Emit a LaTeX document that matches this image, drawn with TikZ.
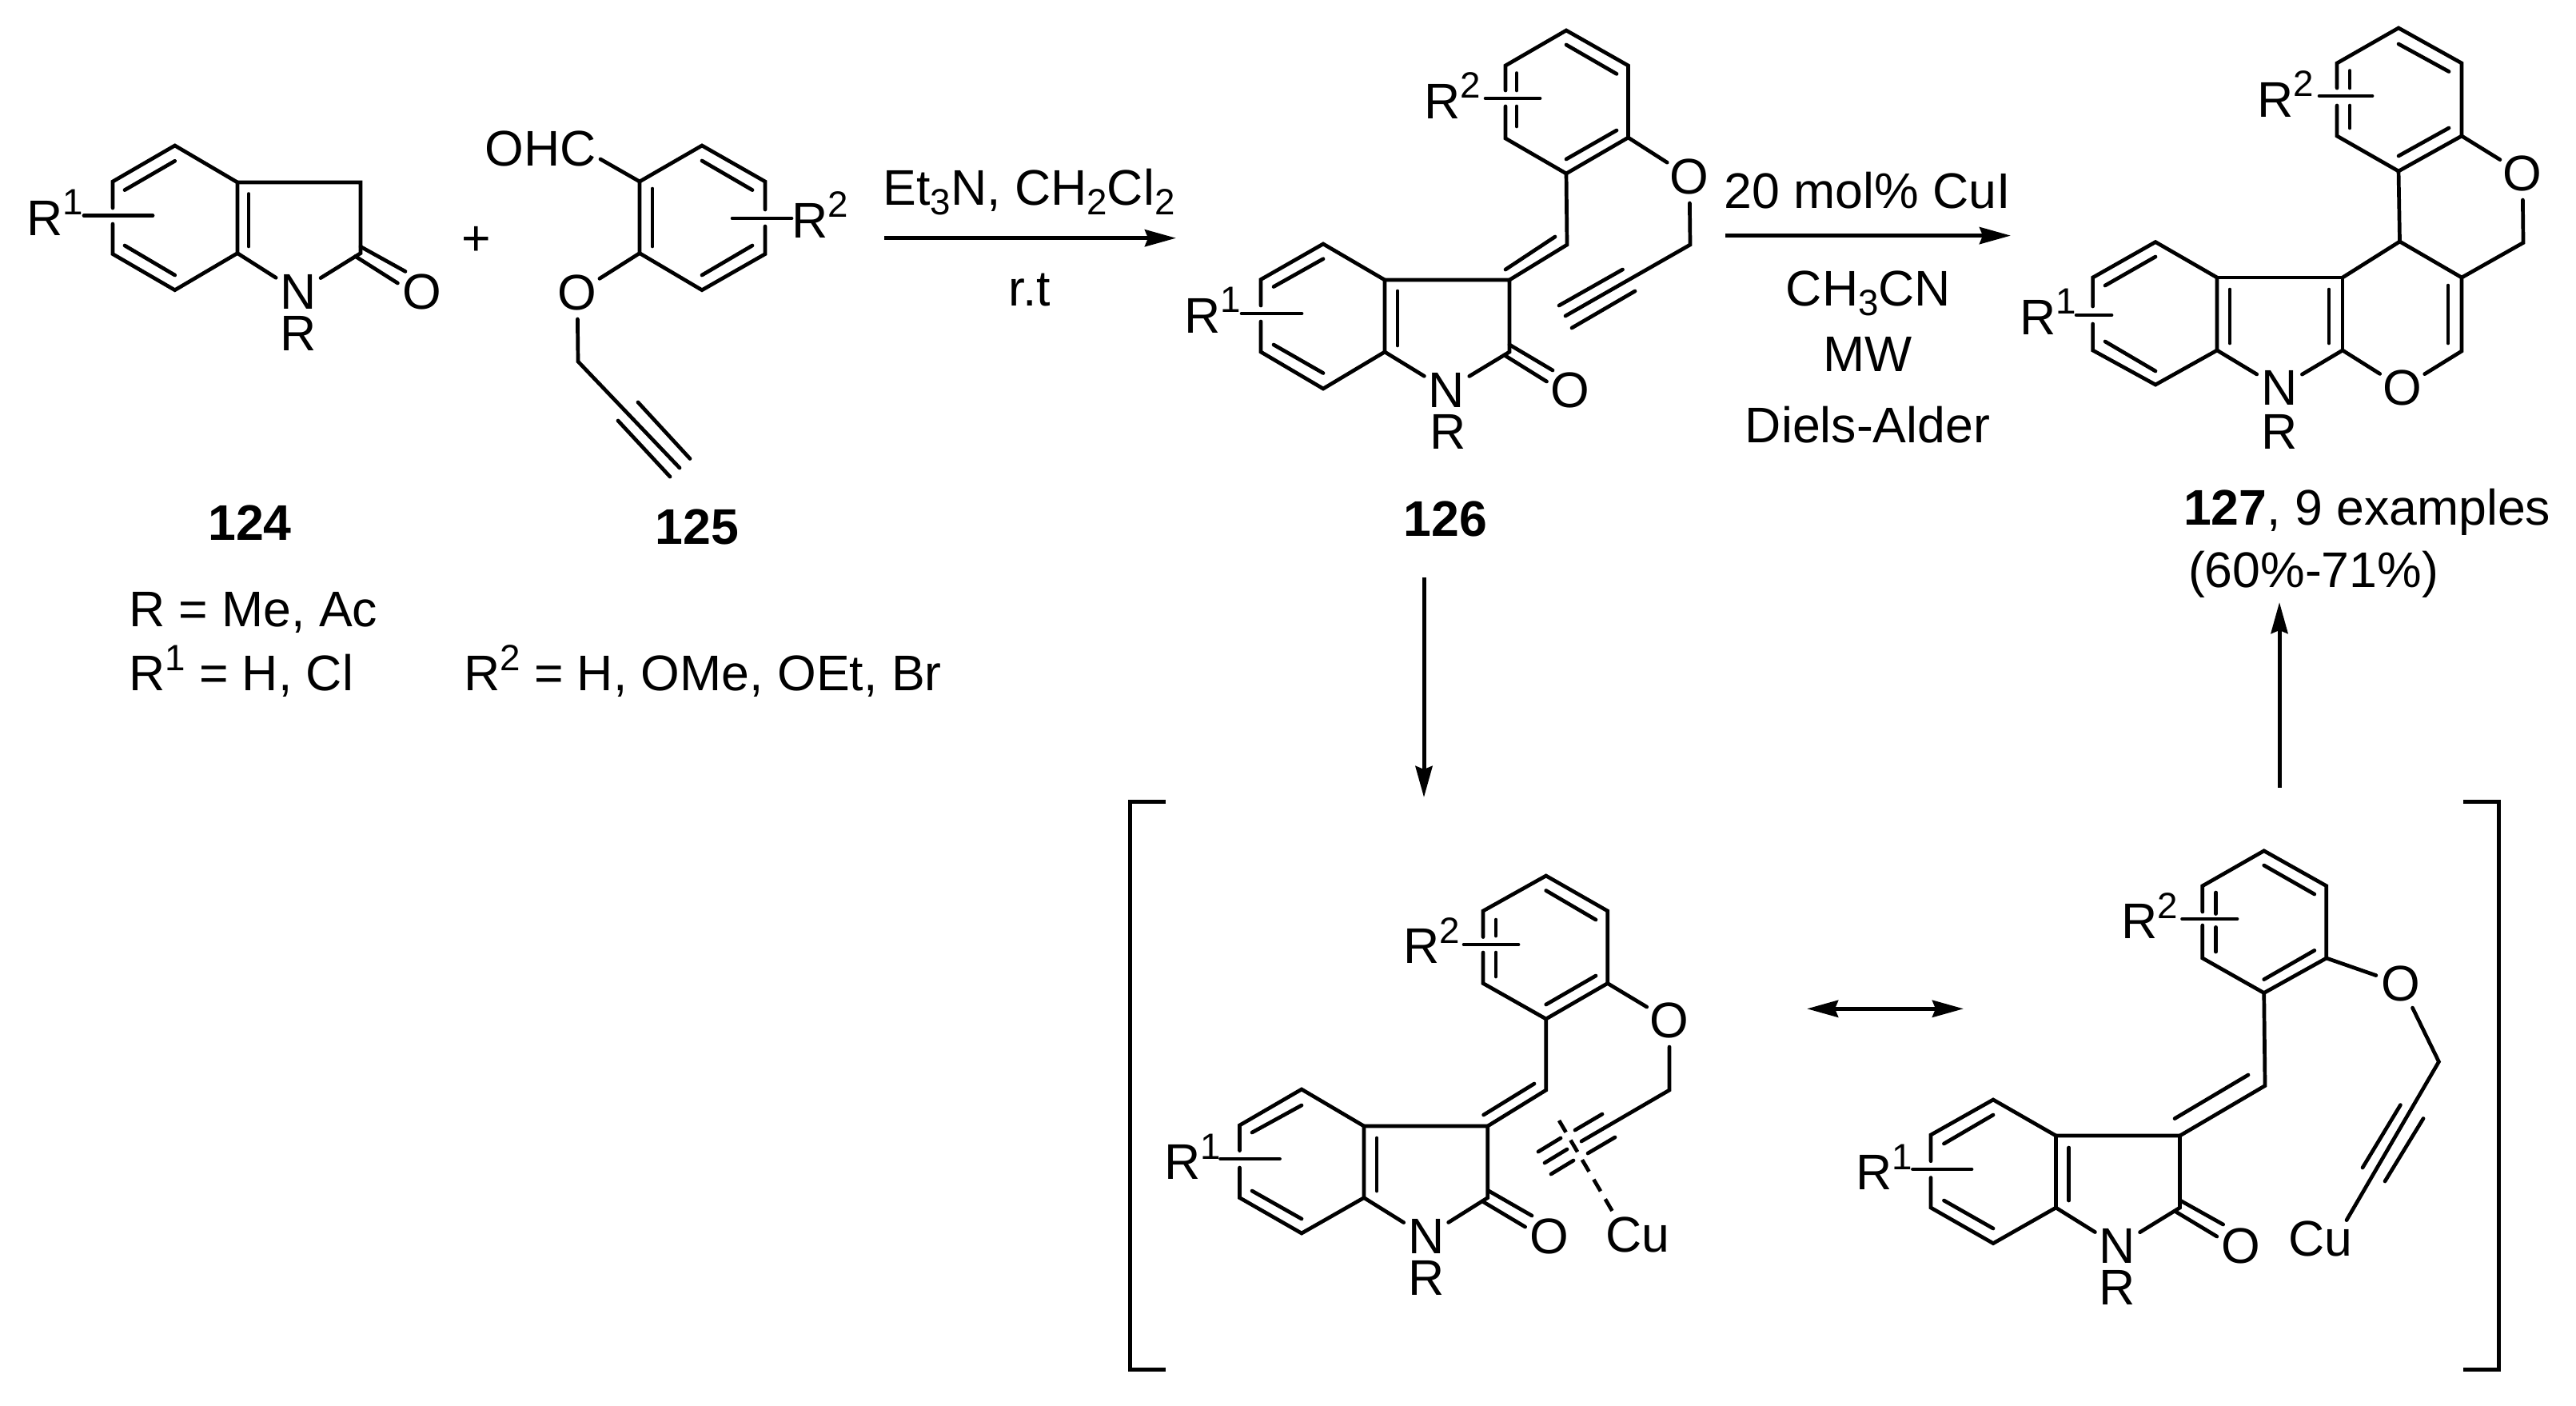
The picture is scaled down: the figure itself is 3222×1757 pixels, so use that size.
\documentclass[tikz,border=0pt]{standalone}
\usepackage{fontspec}
\setmainfont{Liberation Sans}
\usetikzlibrary{arrows.meta}
\newcommand{\vx}[3]{\coordinate (#1) at (#2,#3);}
\newcommand{\seg}[5]{\coordinate (#1s) at (#2,#3);\coordinate (#1e) at (#4,#5);\draw[bond] (#1s) -- (#1e);}
\newcommand{\up}[1]{\raisebox{.25cm}{\fontsize{13pt}{14pt}\selectfont #1}}
\newcommand{\dn}[1]{\raisebox{-.12cm}{\fontsize{13pt}{14pt}\selectfont #1}}
\tikzset{
 bond/.style={line width=.047cm,line cap=round,line join=miter},
 rxn/.style={line width=.05cm,-{Stealth[length=.39cm,width=.21cm,inset=.04cm]}},
 rxnb/.style={line width=.05cm,{Stealth[length=.39cm,width=.21cm,inset=.04cm]}-{Stealth[length=.39cm,width=.21cm,inset=.04cm]}},
 atom/.style={circle,inner sep=0pt,outer sep=0pt,minimum size=.66cm,font=\fontsize{17.8pt}{20pt}\selectfont},
 lbl/.style={inner sep=0pt,outer sep=0pt,font=\fontsize{17.8pt}{20pt}\selectfont},
 basec/.style={lbl,anchor=base},
 basel/.style={lbl,anchor=base west},
 brk/.style={line width=.05cm,line join=miter},
 halfdash/.style={line width=.047cm,dash pattern=on .17cm off .115cm}
}
\begin{document}
\begin{tikzpicture}[x=.01cm,y=-.01cm]
\useasboundingbox (0,0) rectangle (3222,1757);
% ---------- 124
\vx{a1}{218.7}{182}\vx{a2}{141}{227}\vx{a3}{141}{317.6}\vx{a4}{218.7}{362.7}
\vx{a5}{297}{228}\vx{a6}{297}{316.6}\vx{a7}{451}{228}\vx{a8}{451}{316.6}
\vx{a2b}{141}{260}\vx{a3b}{141}{280}
\node[atom] (aN) at (373,365) {N};
\node[lbl] (aR) at (373,417) {R};
\node[atom] (aO) at (528,365) {O};
\node[basel] (aR1) at (33,294) {R\up{1}};
\draw[bond] (a2b) -- (a2) -- (a1) -- (a5) -- (a6) -- (a4) -- (a3) -- (a3b);
\draw[bond] (a5) -- (a7) -- (a8) -- (aN) -- (a6);
\seg{ai1}{156}{237.6}{218.7}{201.3}
\seg{ai2}{156}{307}{218.7}{344}
\seg{ai3}{311}{242.5}{311}{308}
\seg{ao1}{451}{308.4}{507}{339.4}
\seg{ao2}{444.5}{320.5}{497.4}{354}
\seg{as}{105}{269.6}{191}{269.6}
\node[lbl] (plus) at (596,301) {+};
% ---------- 125
\vx{b1}{800}{227}\vx{b2}{878}{182}\vx{b3}{957}{227}\vx{b4}{957}{317.6}\vx{b5}{878}{362.7}\vx{b6}{800}{316.6}
\vx{b3b}{957}{262}\vx{b4b}{957}{283}\vx{b7}{723}{452}
\vx{b8}{850}{585}
\node[lbl,anchor=base] (bCHO) at (676,207) {OHC};
\vx{bCHOe}{751}{199}
\node[atom] (bO) at (722,366) {O};
\node[basel] (bR2) at (990,297) {R\up{2}};
\draw[bond] (b3b) -- (b3) -- (b2) -- (b1) -- (b6) -- (b5) -- (b4) -- (b4b);
\draw[bond] (bCHOe) -- (b1);
\draw[bond] (b6) -- (bO) -- (b7) -- (b8);
\seg{bi1}{816}{236}{816}{308}
\seg{bi2}{878}{201}{941}{237.6}
\seg{bi3}{878}{344}{941}{307}
\seg{bs}{916}{273}{990}{273}
\seg{bt1}{798}{503}{863}{573.5}
\seg{bt2}{773}{526}{838}{596}
% labels left
\node[basec] (l124) at (312.5,675) {\textbf{124}};
\node[basec] (l125) at (872,680) {\textbf{125}};
\node[basel] (tR) at (161,783) {R = Me, Ac};
\node[basel] (tR1) at (161,863) {R\up{1} = H, Cl};
\node[basel] (tR2) at (580,863) {R\up{2} = H, OMe, OEt, Br};
% arrow 1
\vx{r1s}{1106}{297.7}\vx{r1e}{1471}{297.7}
\draw[rxn] (r1s) -- (r1e);
\node[basec] (r1a) at (1287,256) {Et\dn{3}N, CH\dn{2}Cl\dn{2}};
\node[basec] (r1b) at (1288,382) {r.t};
% ---------- 126
\vx{c1}{1655}{305}\vx{c2}{1577}{349.5}\vx{c3}{1577}{440}\vx{c4}{1655}{486}
\vx{c5}{1732}{350}\vx{c6}{1732}{440}\vx{c7}{1888}{350}\vx{c8}{1888}{440}
\vx{c2b}{1577}{382}\vx{c3b}{1577}{402}
\vx{c9}{1960}{306}\vx{c10}{1959}{217}\vx{c11}{1883}{173}\vx{c12}{1883}{82}\vx{c13}{1959}{38}\vx{c14}{2036.5}{82}\vx{c15}{2036.5}{172}
\vx{c11b}{1883}{133}\vx{c12b}{1883}{113}
\vx{c16}{2114}{306}\vx{c17}{1958}{395}
\node[atom] (cN) at (1809.5,487.5) {N};
\node[lbl] (cR) at (1811,540) {R};
\node[atom] (cO) at (1964,487.5) {O};
\node[atom] (cO2) at (2113,221) {O};
\node[basel] (cR1) at (1481,416) {R\up{1}};
\node[basel] (cR2) at (1781,148) {R\up{2}};
\draw[bond] (c2b) -- (c2) -- (c1) -- (c5) -- (c6) -- (c4) -- (c3) -- (c3b);
\draw[bond] (c5) -- (c7) -- (c8) -- (cN) -- (c6);
\draw[bond] (c7) -- (c9) -- (c10) -- (c11) -- (c11b);
\draw[bond] (c12b) -- (c12) -- (c13) -- (c14) -- (c15) -- (c10);
\draw[bond] (c15) -- (cO2) -- (c16) -- (c17);
\seg{ci1}{1593}{358.5}{1655}{323.7}
\seg{ci2}{1593}{431}{1655}{466.5}
\seg{ci3}{1748}{364}{1748}{432}
\seg{co1}{1888}{431}{1942}{463}
\seg{co2}{1881.5}{444}{1934.5}{477}
\seg{cv}{1883}{337}{1945}{296}
\seg{ci4}{1897}{91.5}{1897}{113}
\seg{ci5}{1897}{133}{1897}{158}
\seg{ci6}{1959}{56}{2022}{92.4}
\seg{ci7}{1959}{199}{2022}{163}
\seg{cs1}{1553}{392}{1628}{392}
\seg{cs2}{1858}{123}{1926}{123}
\seg{ct1}{2029.5}{337}{1950}{382}
\seg{ct2}{2045}{364}{1966}{410}
\node[basec] (l126) at (1808,670) {\textbf{126}};
% arrow 2
\vx{r2s}{2158}{294.6}\vx{r2e}{2515}{294.6}
\draw[rxn] (r2s) -- (r2e);
\node[basec] (r2a) at (2336,260) {20 mol\% CuI};
\node[basec] (r2b) at (2337,382) {CH\dn{3}CN};
\node[basec] (r2c) at (2336,464) {MW};
\node[basec] (r2d) at (2336,553.5) {Diels-Alder};
% ---------- 127
\vx{d1}{2696}{302.6}\vx{d2}{2617.6}{347}\vx{d3}{2617.6}{438}\vx{d4}{2696}{481}
\vx{d5}{2773}{347}\vx{d6}{2773}{438}\vx{d7}{2930}{347}\vx{d8}{2930}{438}
\vx{d2b}{2617.6}{383}\vx{d3b}{2617.6}{405}
\vx{d9}{3079}{439}\vx{d10}{3079}{347}\vx{d11}{3001.5}{302}\vx{d12}{3156}{303.5}
\vx{d13}{3079}{170}\vx{d14}{3000}{214}\vx{d15}{2923}{170}\vx{d16}{2923}{79}\vx{d17}{3000}{35}\vx{d18}{3079}{79}
\vx{d15b}{2923}{132}\vx{d16b}{2923}{110}
\node[atom] (dN) at (2851,485) {N};
\node[lbl] (dR) at (2851,540) {R};
\node[atom] (dO) at (3004.6,485) {O};
\node[atom] (dO2) at (3155,217) {O};
\node[basel] (dR1) at (2526,418) {R\up{1}};
\node[basel] (dR2) at (2823,146) {R\up{2}};
\draw[bond] (d2b) -- (d2) -- (d1) -- (d5) -- (d6) -- (d4) -- (d3) -- (d3b);
\draw[bond] (d5) -- (d7) -- (d8);
\draw[bond] (d6) -- (dN) -- (d8) -- (dO) -- (d9) -- (d10) -- (d11) -- (d7);
\draw[bond] (d11) -- (d14) -- (d15) -- (d15b);
\draw[bond] (d16b) -- (d16) -- (d17) -- (d18) -- (d13) -- (d14);
\draw[bond] (d13) -- (dO2) -- (d12) -- (d10);
\seg{di1}{2633}{357}{2696}{321}
\seg{di2}{2633}{427}{2696}{464}
\seg{di3}{2789}{362}{2789}{429}
\seg{di4}{2913}{362}{2913}{429}
\seg{di5}{3062}{357}{3062}{429}
\seg{di6}{2939}{88.5}{2939}{110}
\seg{di7}{2939}{132}{2939}{160}
\seg{di8}{3000}{55}{3063}{89.5}
\seg{di9}{3000}{195}{3063}{160}
\seg{ds1}{2597}{394}{2641}{394}
\seg{ds2}{2901}{120}{2967}{120}
\node[basel] (l127) at (2731,656.5) {\textbf{127}, 9 examples};
\node[basel] (y127) at (2737,734) {(60\%-71\%)};
% arrows 3, 4, resonance
\vx{r3s}{1781}{722}\vx{r3e}{1781}{997}
\draw[rxn] (r3s) -- (r3e);
\vx{r4s}{2851}{985}\vx{r4e}{2851}{753}
\draw[rxn] (r4s) -- (r4e);
\vx{r5s}{2260}{1261.3}\vx{r5e}{2456}{1261.3}
\draw[rxnb] (r5s) -- (r5e);
% brackets
\vx{bl1}{1458}{1002}\vx{bl2}{1413}{1002}\vx{bl3}{1413}{1712}\vx{bl4}{1458}{1712}
\draw[brk] (bl1) -- (bl2) -- (bl3) -- (bl4);
\vx{br1}{3081}{1002}\vx{br2}{3125.5}{1002}\vx{br3}{3125.5}{1712}\vx{br4}{3081}{1712}
\draw[brk] (br1) -- (br2) -- (br3) -- (br4);
% ---------- bottom left
\vx{e1}{1628}{1362}\vx{e2}{1550.5}{1407}\vx{e3}{1550.5}{1497.6}\vx{e4}{1628}{1542}
\vx{e5}{1706}{1408}\vx{e6}{1706}{1497.6}\vx{e7}{1860.7}{1408}\vx{e8}{1860.7}{1497.6}
\vx{e2b}{1550.5}{1438.6}\vx{e3b}{1550.5}{1460}
\vx{e9}{1933.7}{1363}\vx{e10}{1933.7}{1274}\vx{e11}{1855}{1229.5}\vx{e12}{1855}{1139}\vx{e13}{1933.7}{1095}\vx{e14}{2010.7}{1139}\vx{e15}{2010.7}{1229.5}
\vx{e11b}{1855}{1191}\vx{e12b}{1855}{1171.5}
\vx{e16}{2088}{1363}\vx{e17}{1978}{1427}
\node[atom] (eN) at (1783.7,1546) {N};
\node[lbl] (eR) at (1783.7,1597.6) {R};
\node[atom] (eO) at (1938,1546) {O};
\node[atom] (eO2) at (2088,1276) {O};
\node[basec] (eCu) at (2048,1565) {Cu};
\node[basel] (eR1) at (1456,1474) {R\up{1}};
\node[basel] (eR2) at (1755,1204) {R\up{2}};
\draw[bond] (e2b) -- (e2) -- (e1) -- (e5) -- (e6) -- (e4) -- (e3) -- (e3b);
\draw[bond] (e5) -- (e7) -- (e8) -- (eN) -- (e6);
\draw[bond] (e7) -- (e9) -- (e10) -- (e11) -- (e11b);
\draw[bond] (e12b) -- (e12) -- (e13) -- (e14) -- (e15) -- (e10);
\draw[bond] (e15) -- (eO2) -- (e16) -- (e17);
\seg{ei1}{1566}{1416}{1628}{1382}
\seg{ei2}{1566}{1489}{1628}{1524}
\seg{ei3}{1722}{1423}{1722}{1489}
\seg{eo1}{1862}{1489}{1916}{1520}
\seg{eo2}{1854}{1502}{1907.6}{1534}
\seg{ev}{1855.6}{1394}{1919}{1355}
\seg{ei4}{1871}{1150}{1871}{1170}
\seg{ei5}{1871}{1191}{1871}{1221}
\seg{ei6}{1933.7}{1113.5}{1996}{1150}
\seg{ei7}{1933.7}{1256}{1996}{1220}
\seg{es1}{1526.5}{1449}{1600.5}{1449}
\seg{es2}{1831}{1181}{1899}{1181}
\seg{et0}{1960}{1437}{1932}{1454}
\seg{et1}{2004}{1393}{1970}{1413}
\seg{et2}{1952}{1423}{1924}{1440}
\seg{et3}{2020}{1422}{1986}{1442}
\seg{et4}{1968}{1451}{1940}{1468}
\vx{ed1}{1950}{1401}\vx{ed2}{2017}{1515}
\draw[halfdash] (ed1) -- (ed2);
% ---------- bottom right
\vx{f1}{2493}{1375}\vx{f2}{2415}{1419}\vx{f3}{2415}{1510}\vx{f4}{2493}{1554.6}
\vx{f5}{2571.5}{1420}\vx{f6}{2571.5}{1510}\vx{f7}{2726.5}{1420}\vx{f8}{2726.5}{1510}
\vx{f2b}{2415}{1451.7}\vx{f3b}{2415}{1472.5}
\vx{f9}{2833}{1357.5}\vx{f10}{2831.7}{1241.5}\vx{f11}{2754.8}{1198}\vx{f12}{2754.8}{1107.7}\vx{f13}{2831.7}{1063.8}\vx{f14}{2909.8}{1107.7}\vx{f15}{2909.8}{1198}
\vx{f11b}{2754.8}{1157}\vx{f12b}{2754.8}{1140}
\vx{f16}{3050.4}{1327.5}\vx{f17}{2935}{1525.6}
\node[atom] (fN) at (2648.4,1558) {N};
\node[lbl] (fR) at (2648.4,1609.6) {R};
\node[atom] (fO) at (2803,1558) {O};
\node[atom] (fO2) at (3003,1230.4) {O};
\node[lbl,anchor=base] (fCu) at (2902,1570) {Cu};
\node[basel] (fR1) at (2321,1487) {R\up{1}};
\node[basel] (fR2) at (2653.6,1173) {R\up{2}};
\draw[bond] (f2b) -- (f2) -- (f1) -- (f5) -- (f6) -- (f4) -- (f3) -- (f3b);
\draw[bond] (f5) -- (f7) -- (f8) -- (fN) -- (f6);
\draw[bond] (f7) -- (f9) -- (f10) -- (f11) -- (f11b);
\draw[bond] (f12b) -- (f12) -- (f13) -- (f14) -- (f15) -- (f10);
\draw[bond] (f15) -- (fO2) -- (f16) -- (f17);
\seg{fi1}{2431.4}{1430}{2493}{1394}
\seg{fi2}{2431.4}{1501}{2493}{1536}
\seg{fi3}{2587.7}{1435}{2587.7}{1501}
\seg{fo1}{2727.7}{1501.4}{2780.6}{1531}
\seg{fo2}{2720.5}{1514.5}{2772.8}{1546}
\seg{fv}{2720}{1398.6}{2812}{1344}
\seg{fi4}{2771.6}{1116}{2771.6}{1142.5}
\seg{fi5}{2771.6}{1159.4}{2771.6}{1190}
\seg{fi6}{2831.7}{1082}{2894.8}{1118}
\seg{fi7}{2831.7}{1224.6}{2894.8}{1188.4}
\seg{fs1}{2392.4}{1462}{2466}{1462}
\seg{fs2}{2729.5}{1149}{2798}{1149}
\seg{ft1}{3002.4}{1381.6}{2955}{1460}
\seg{ft2}{3031}{1398.5}{2983}{1477}
\end{tikzpicture}
\end{document}
